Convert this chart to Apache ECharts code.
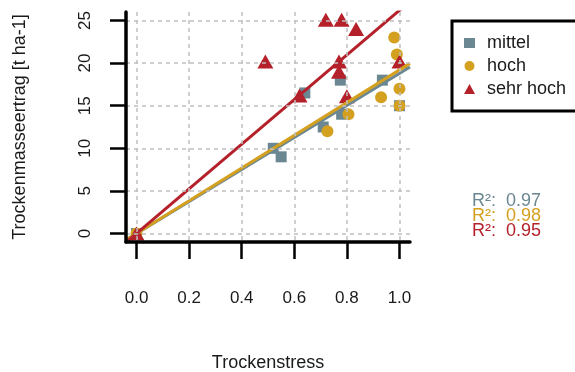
<!DOCTYPE html>
<html>
<head>
<meta charset="utf-8">
<script src="https://cdn.jsdelivr.net/npm/echarts@6/dist/echarts.min.js"></script>
<style>
  html, body { margin: 0; padding: 0; background: #fff; }
  #chart { width: 575px; height: 372px; }
</style>
</head>
<body>
<div id="chart"></div>
<script>
var groups = ['mittel', 'hoch', 'sehr hoch'];
var colors = ['#6b8792', '#d4a020', '#b5212a'];
var symbols = ['rect', 'circle', 'triangle'];

var mittelX = [0, 0.52, 0.55, 0.64, 0.71, 0.775, 0.78, 0.935, 1.0];
var mittelY = [0, 10, 9, 16.5, 12.5, 18, 14, 18, 15];
var hochX = [0, 0.726, 0.806, 0.93, 0.98, 0.99, 1.0, 1.0];
var hochY = [0, 12, 14, 16, 23, 21, 17, 15];
var sehrHochX = [0, 0.49, 0.62, 0.72, 0.78, 0.835, 0.77, 0.77, 0.80, 1.0];
var sehrHochY = [0, 20.2, 16.2, 25.1, 25.1, 24.0, 20.2, 19.0, 16.1, 20.2];

// slopes of the fitted lines (through origin) and their R²
var slopes = [18.8, 19.2, 26.2];
var r2 = [0.97, 0.98, 0.95];

var xTicks = [0, 0.2, 0.4, 0.6, 0.8, 1.0];
var yTicks = [0, 5, 10, 15, 20, 25];
var xRange = [-0.04, 1.04];
var yRange = [-1, 26];

var xs = [mittelX, hochX, sehrHochX];
var ys = [mittelY, hochY, sehrHochY];
var sizes = [11, 12, [16, 14]];

var chartDom = document.getElementById('chart');
var chart = echarts.init(chartDom);

var series = [];
groups.forEach(function (g, i) {
  series.push({
    name: g,
    type: 'scatter',
    symbol: symbols[i],
    symbolSize: sizes[i],
    itemStyle: { color: colors[i], opacity: 1 },
    data: xs[i].map(function (x, k) { return [x, ys[i][k]]; }),
    z: 2
  });
});
groups.forEach(function (g, i) {
  series.push({
    type: 'line',
    symbol: 'none',
    silent: true,
    clip: true,
    lineStyle: { color: colors[i], width: 3 },
    data: xRange.map(function (x) { return [x, slopes[i] * x]; }),
    z: 3
  });
});

var labelFont = { fontFamily: 'Liberation Sans', color: '#1a1a1a' };

var option = {
  animation: false,
  grid: { left: 126, right: 165, top: 12, bottom: 130, containLabel: false, outerBoundsMode: 'none' },
  legend: {
    data: [
      { name: groups[0], icon: 'rect', itemStyle: { color: colors[0] } },
      { name: groups[1], icon: 'circle', itemStyle: { color: colors[1] } },
      { name: groups[2], icon: 'triangle', itemStyle: { color: colors[2] } }
    ],
    orient: 'vertical',
    left: 452,
    top: 21,
    padding: [13, 40, 13, 12],
    itemWidth: 11,
    itemHeight: 10,
    itemGap: 5,
    borderColor: '#000',
    borderWidth: 3,
    textStyle: { fontFamily: 'Liberation Sans', fontSize: 18, lineHeight: 18, color: '#1a1a1a', padding: [0, 0, 0, 7] }
  },
  xAxis: {
    type: 'value',
    min: xRange[0],
    max: xRange[1],
    z: 10,
    name: 'Trockenstress',
    nameLocation: 'middle',
    nameGap: 112,
    nameTextStyle: Object.assign({ fontSize: 18 }, labelFont),
    axisLine: { onZero: false, lineStyle: { color: '#000', width: 3.5 } },
    axisTick: { customValues: xTicks, length: 17, lineStyle: { color: '#000', width: 2.5 } },
    axisLabel: Object.assign({
      customValues: xTicks, fontSize: 17, margin: 48,
      formatter: function (v) { return v.toFixed(1); }
    }, labelFont),
    splitLine: { show: true, lineStyle: { color: '#c0c0c0', width: 1.5, type: [4, 4] } }
  },
  yAxis: {
    type: 'value',
    min: yRange[0],
    max: yRange[1],
    z: 10,
    name: 'Trockenmasseertrag [t ha-1]',
    nameLocation: 'middle',
    nameGap: 97,
    nameTextStyle: Object.assign({ fontSize: 18 }, labelFont),
    axisLine: { onZero: false, lineStyle: { color: '#000', width: 3.5 } },
    axisTick: { customValues: yTicks, length: 16, lineStyle: { color: '#000', width: 2.5 } },
    axisLabel: Object.assign({ customValues: yTicks, fontSize: 17, margin: 32, rotate: 90 }, labelFont),
    splitLine: { show: true, lineStyle: { color: '#c0c0c0', width: 1.5, type: [4, 4] } }
  },
  graphic: r2.map(function (v, i) {
    return {
      type: 'text',
      left: 472,
      top: 192 + i * 15,
      style: {
        text: 'R²:  ' + v.toFixed(2),
        fill: colors[i],
        font: '18px "Liberation Sans"'
      }
    };
  }),
  series: series
};

option && chart.setOption(option);
</script>
</body>
</html>
